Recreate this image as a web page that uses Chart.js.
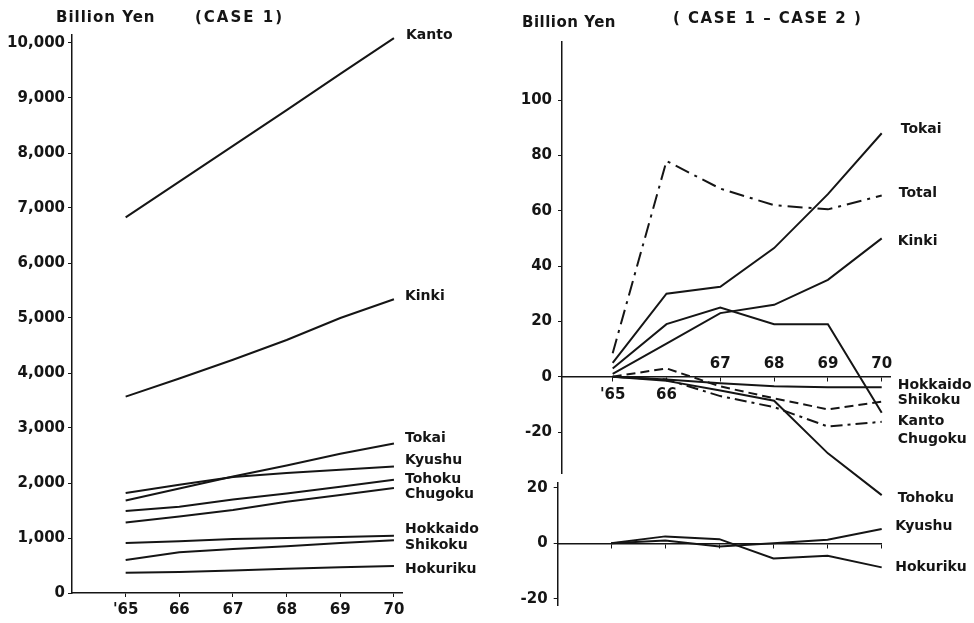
<!DOCTYPE html>
<html lang="en">
<head>
  <meta charset="UTF-8">
  <title>Regional Income: Case 1 and Case 1 - Case 2</title>
  <script src="https://cdn.jsdelivr.net/npm/chart.js"></script>
  <style>
    html, body { margin: 0; padding: 0; background: #fff; }
    #wrap { position: relative; width: 974px; height: 623px; overflow: hidden;
            font-family: "DejaVu Sans", sans-serif; font-weight: bold; color: #151515; }
    #wrap canvas { position: absolute; top: 0; }
    .cap { position: absolute; font-size: 15px; line-height: 18px; white-space: nowrap; }
  </style>
</head>
<body>
  <div id="wrap">
    <canvas id="case1Chart" width="480" height="623" style="left:0"></canvas>
    <canvas id="diffChart" width="494" height="623" style="left:480px"></canvas>
    <canvas id="smallChart" width="494" height="623" style="left:480px"></canvas>

    <div class="cap" style="left:56px; top:8px; letter-spacing:1px">Billion Yen</div>
    <div class="cap" style="left:195px; top:8px; letter-spacing:2px">(CASE 1)</div>
    <div class="cap" style="left:522px; top:13px; letter-spacing:0.5px">Billion Yen</div>
    <div class="cap" style="left:673px; top:9px; letter-spacing:1.5px">( CASE 1 – CASE 2 )</div>
  </div>

  <script>
    const years = [1965, 1966, 1967, 1968, 1969, 1970];
    const yearLabels = ["'65", '66', '67', '68', '69', '70'];

    // CASE 1, billion yen
    const kanto1    = [6830, 7480, 8130, 8780, 9440, 10090];
    const kinki1    = [3570, 3900, 4240, 4600, 5000, 5340];
    const tokai1    = [1680, 1900, 2120, 2320, 2530, 2720];
    const kyushu1   = [1820, 1970, 2110, 2180, 2240, 2300];
    const tohoku1   = [1490, 1570, 1700, 1810, 1930, 2060];
    const chugoku1  = [1280, 1390, 1510, 1660, 1780, 1910];
    const hokkaido1 = [910, 940, 980, 1000, 1020, 1040];
    const shikoku1  = [600, 740, 800, 850, 910, 960];
    const hokuriku1 = [370, 380, 410, 440, 470, 490];

    // CASE 1 - CASE 2, billion yen
    const tokaiD    = [5, 30, 32.5, 46.5, 66, 88];
    const totalD    = [8.5, 78, 68, 62, 60.5, 65.5];
    const kinkiD    = [1, 12, 23, 26, 35, 50];
    const chugokuD  = [3, 19, 25, 19, 19, -13];
    const hokkaidoD = [0, -1, -2.4, -3.4, -3.8, -3.8];
    const shikokuD  = [0, 3, -3.5, -7.8, -11.8, -9];
    const kantoD    = [0, -1, -7, -11, -18, -16.3];
    const tohokuD   = [0, -1.5, -5, -8.7, -27.7, -42.8];
    const kyushuD   = [0, 1, -1.2, 0, 1.3, 5.2];
    const hokurikuD = [0, 2.5, 1.5, -5.5, -4.5, -8.7];

    const case1Ticks = [0, 1000, 2000, 3000, 4000, 5000, 6000, 7000, 8000, 9000, 10000];
    const diffTicks = [-20, 0, 20, 40, 60, 80, 100];
    const smallTicks = [-20, 0, 20];
    const yearsBelow = [1965, 1966];
    const yearsAbove = [1967, 1968, 1969, 1970];

    const ink = '#151515';
    const tickFont = { family: '"DejaVu Sans", sans-serif', size: 15, weight: 'bold' };
    const DASH_DOT = [15, 6, 3, 6];
    const DASHED = [9, 5];

    function series(label, values, dash) {
      return {
        label: label,
        data: values.map((v, i) => ({ x: years[i], y: v })),
        borderColor: ink,
        borderWidth: 2,
        borderDash: dash || [],
        pointRadius: 0,
        tension: 0,
        fill: false,
        clip: false
      };
    }

    function yearLabel(v) {
      const i = years.indexOf(v);
      return i < 0 ? '' : yearLabels[i];
    }

    // writes each series name next to its last point
    const endLabels = {
      id: 'endLabels',
      afterDatasetsDraw(chart, args, opts) {
        const ctx = chart.ctx;
        ctx.save();
        ctx.font = 'bold 14px "DejaVu Sans", sans-serif';
        ctx.fillStyle = ink;
        ctx.textBaseline = 'middle';
        chart.data.datasets.forEach(ds => {
          const last = ds.data[ds.data.length - 1];
          const n = opts.nudge[ds.label] || [0, 0];
          const x = chart.scales.x.getPixelForValue(last.x) + opts.gap + n[0];
          const y = chart.scales.y.getPixelForValue(last.y) + n[1];
          ctx.fillText(ds.label, x, y);
        });
        ctx.restore();
      }
    };

    const common = {
      responsive: false,
      animation: false,
      plugins: { legend: { display: false }, tooltip: { enabled: false } }
    };

    // ---- left: CASE 1 ----
    new Chart(document.getElementById('case1Chart'), {
      type: 'line',
      data: {
        datasets: [
          series('Kanto', kanto1), series('Kinki', kinki1), series('Tokai', tokai1),
          series('Kyushu', kyushu1), series('Tohoku', tohoku1), series('Chugoku', chugoku1),
          series('Hokkaido', hokkaido1), series('Shikoku', shikoku1), series('Hokuriku', hokuriku1)
        ]
      },
      options: {
        ...common,
        layout: { padding: { top: 34.75, right: 78, bottom: 0, left: 0 } },
        scales: {
          x: {
            type: 'linear', min: 1964, max: 1970.15, bounds: 'data',
            afterFit: s => { s.height = 30; },
            afterBuildTicks: s => { s.ticks = years.map(v => ({ value: v })); },
            grid: { drawOnChartArea: false, tickLength: 4, color: ink },
            border: { color: ink, width: 1.5 },
            ticks: { font: tickFont, color: ink, padding: 4, maxRotation: 0, autoSkip: false, callback: yearLabel }
          },
          y: {
            type: 'linear', min: 0, max: 10150, bounds: 'data',
            afterFit: s => { s.width = 72; },
            afterBuildTicks: s => { s.ticks = case1Ticks.map(v => ({ value: v })); },
            grid: { drawOnChartArea: false, tickLength: 4, color: ink },
            border: { color: ink, width: 1.5 },
            ticks: { font: tickFont, color: ink, padding: 3, autoSkip: false,
                     callback: v => v.toLocaleString('en-US') }
          }
        },
        plugins: {
          ...common.plugins,
          endLabels: {
            gap: 11,
            nudge: {
              Kanto: [1, -3], Kinki: [0, -3], Tokai: [0, -5], Kyushu: [0, -6], Tohoku: [0, 0],
              Chugoku: [0, 6], Hokkaido: [0, -6], Shikoku: [0, 5], Hokuriku: [0, 3]
            }
          }
        }
      },
      plugins: [endLabels]
    });

    // ---- right top: CASE 1 - CASE 2 ----
    new Chart(document.getElementById('diffChart'), {
      type: 'line',
      data: {
        datasets: [
          series('Tokai', tokaiD), series('Total', totalD, DASH_DOT), series('Kinki', kinkiD),
          series('Hokkaido', hokkaidoD), series('Shikoku', shikokuD, DASHED),
          series('Kanto', kantoD, [12, 5, 3, 5]), series('Chugoku', chugokuD), series('Tohoku', tohokuD)
        ]
      },
      options: {
        ...common,
        layout: { padding: { top: 41.7, right: 84, bottom: 150, left: 0 } },
        scales: {
          x: {
            type: 'linear', min: 1964.058, max: 1970.154, bounds: 'data', position: { y: 0 },
            afterBuildTicks: s => { s.ticks = years.map(v => ({ value: v })); },
            grid: { drawOnChartArea: false, tickLength: 4, color: ink },
            border: { color: ink, width: 1.5 },
            ticks: { font: tickFont, color: ink, padding: 5.3, maxRotation: 0, autoSkip: false,
                     callback: v => yearsBelow.includes(v) ? yearLabel(v) : '' }
          },
          x2: {
            type: 'linear', min: 1964.058, max: 1970.154, bounds: 'data', position: { y: 0 },
            afterBuildTicks: s => { s.ticks = yearsAbove.map(v => ({ value: v })); },
            grid: { display: false, drawTicks: false, tickLength: 0 },
            border: { display: false },
            ticks: { font: tickFont, color: ink, padding: -21.4, maxRotation: 0, autoSkip: false, callback: yearLabel }
          },
          y: {
            type: 'linear', min: -34.8, max: 121.1, bounds: 'data',
            afterFit: s => { s.width = 82; },
            afterBuildTicks: s => { s.ticks = diffTicks.map(v => ({ value: v })); },
            grid: { drawOnChartArea: false, tickLength: 4, color: ink },
            border: { color: ink, width: 1.5 },
            ticks: { font: tickFont, color: ink, padding: 6, autoSkip: false }
          }
        },
        plugins: {
          ...common.plugins,
          endLabels: {
            gap: 16,
            nudge: {
              Tokai: [3, -4], Total: [1, -2.5], Kinki: [0, 3], Hokkaido: [0, -2], Shikoku: [0, -1],
              Kanto: [0, 0], Chugoku: [0, 27], Tohoku: [0, 3]
            }
          }
        }
      },
      plugins: [endLabels]
    });

    // ---- right bottom: Kyushu and Hokuriku ----
    new Chart(document.getElementById('smallChart'), {
      type: 'line',
      data: {
        datasets: [series('Kyushu', kyushuD), series('Hokuriku', hokurikuD)]
      },
      options: {
        ...common,
        layout: { padding: { top: 482.7, right: 92.3, bottom: 18, left: 0 } },
        scales: {
          x: {
            type: 'linear', min: 1964.013, max: 1970, bounds: 'data', position: { y: 0 },
            afterBuildTicks: s => { s.ticks = years.map(v => ({ value: v })); },
            grid: { drawOnChartArea: false, tickLength: 4, color: ink },
            border: { color: ink, width: 1.5 },
            ticks: { display: false }
          },
          y: {
            type: 'linear', min: -22.3, max: 21.9, bounds: 'data',
            afterFit: s => { s.width = 77.7; },
            afterBuildTicks: s => { s.ticks = smallTicks.map(v => ({ value: v })); },
            grid: { drawOnChartArea: false, tickLength: 4, color: ink },
            border: { color: ink, width: 1.5 },
            ticks: { font: tickFont, color: ink, padding: 6, autoSkip: false }
          }
        },
        plugins: {
          ...common.plugins,
          endLabels: { gap: 13.5, nudge: { Kyushu: [0, -3], Hokuriku: [0, 0] } }
        }
      },
      plugins: [endLabels]
    });
  </script>
</body>
</html>
